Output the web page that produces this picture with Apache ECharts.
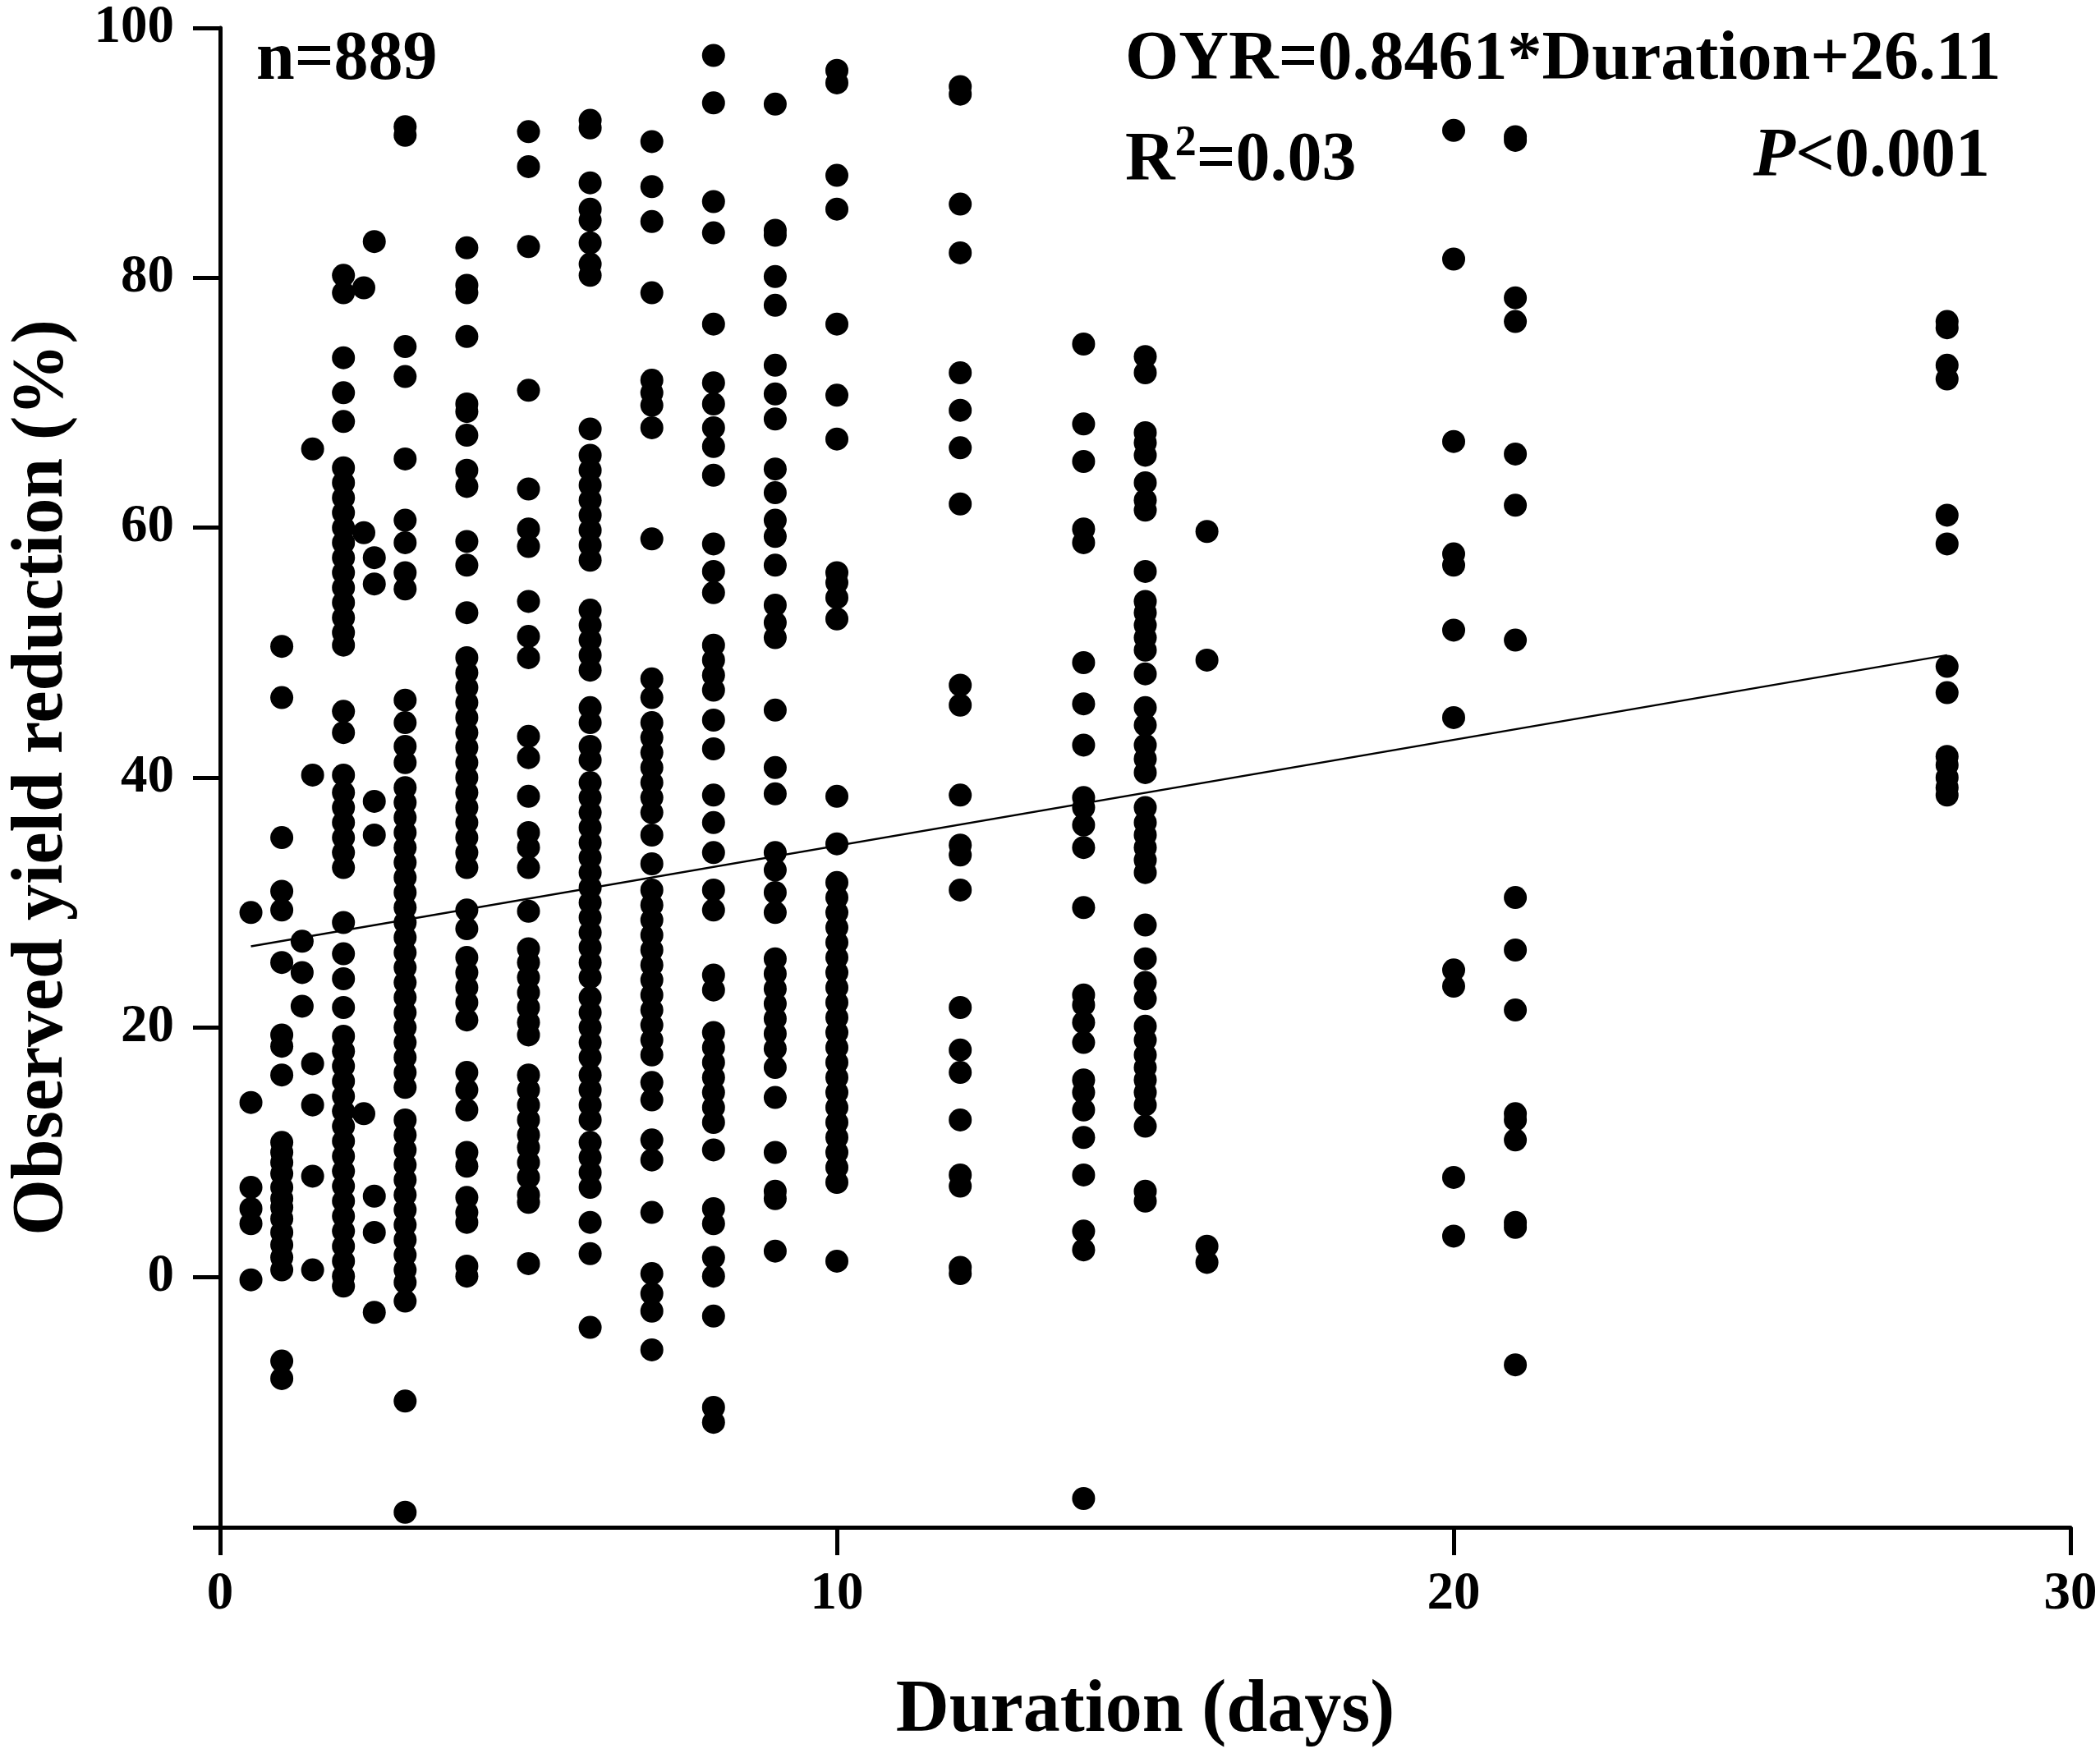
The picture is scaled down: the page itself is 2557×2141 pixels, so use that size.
<!DOCTYPE html>
<html>
<head>
<meta charset="utf-8">
<script src="https://cdn.jsdelivr.net/npm/echarts@6/dist/echarts.min.js"></script>
<style>
  html, body { margin: 0; padding: 0; background: #fff; }
  #chart { width: 2557px; height: 2141px; }
</style>
</head>
<body>
<div id="chart"></div>
<script>
// observed yield reduction (%) read per duration column (days)
let durations = [0.5, 1, 1.33, 1.5, 2, 2.33, 2.5, 3, 4, 5, 6, 7, 8, 9, 10, 12, 14, 15, 16, 20, 21, 28];
let oyr_d0_5 = [29.2, 14.0, 7.2, 5.5, 4.3, -0.2];
let oyr_d1 = [50.5, 46.4, 35.2, 30.9, 29.4, 25.2, 19.4, 18.5, 16.2, 10.8, 10.0, 9.2, 8.3, 7.2, 6.3, 5.6, 4.7, 3.6, 2.6, 1.6, 0.6, -6.7, -8.1];
let oyr_d1_33 = [26.9, 24.4, 21.7];
let oyr_d1_5 = [66.3, 40.2, 17.1, 13.8, 8.1, 0.6];
let oyr_d2 = [80.2, 78.8, 73.6, 70.8, 68.5, 64.8, 63.6, 62.4, 61.2, 60.0, 58.8, 57.6, 56.4, 55.2, 54.0, 52.8, 51.6, 50.6, 45.3, 43.6, 40.2, 38.8, 37.6, 36.4, 35.2, 34.0, 32.8, 28.4, 25.9, 23.9, 21.6, 19.3, 18.1, 16.9, 15.7, 14.5, 13.3, 12.1, 10.9, 9.7, 8.5, 7.3, 6.1, 4.9, 3.7, 2.5, 1.3, 0.1, -0.7];
let oyr_d2_33 = [79.2, 59.6, 13.1];
let oyr_d2_5 = [82.9, 57.6, 55.5, 38.1, 35.4, 6.5, 3.6, -2.8];
let oyr_d3 = [92.1, 91.4, 74.5, 72.1, 65.5, 60.6, 58.8, 56.4, 55.1, 46.2, 44.4, 42.5, 41.2, 39.2, 38.0, 36.8, 35.6, 34.4, 33.2, 32.0, 30.8, 29.6, 28.4, 27.2, 26.0, 24.8, 23.6, 22.4, 21.2, 20.0, 18.8, 17.6, 16.4, 15.2, 12.6, 11.4, 10.2, 9.0, 7.8, 6.6, 5.4, 4.2, 3.0, 1.8, 0.6, -0.4, -1.9, -9.9, -18.8];
let oyr_d4 = [82.4, 79.4, 78.8, 75.3, 69.9, 69.3, 67.4, 64.6, 63.3, 58.9, 57.0, 53.2, 49.6, 48.4, 47.2, 46.0, 44.8, 43.6, 42.4, 41.2, 40.0, 38.8, 37.6, 36.4, 35.2, 34.0, 32.8, 29.4, 27.9, 25.6, 24.4, 23.2, 22.0, 20.6, 16.4, 15.0, 13.4, 10.0, 8.9, 6.4, 5.2, 4.4, 0.9, 0.1];
let oyr_d5 = [91.7, 88.9, 82.5, 71.0, 63.1, 59.9, 58.5, 54.1, 51.3, 49.6, 43.3, 41.6, 38.5, 35.6, 34.4, 32.8, 29.3, 26.3, 25.2, 24.0, 22.8, 21.6, 20.4, 19.4, 16.2, 15.0, 13.8, 12.6, 11.4, 10.4, 9.2, 8.0, 6.6, 6.0, 1.1];
let oyr_d6 = [92.6, 92.0, 87.6, 85.5, 84.6, 82.8, 81.1, 80.2, 67.9, 65.8, 64.6, 63.4, 62.2, 61.0, 59.8, 58.6, 57.4, 53.4, 52.2, 51.0, 49.8, 48.6, 45.6, 44.4, 42.5, 41.4, 39.6, 38.4, 37.2, 36.0, 34.8, 33.6, 32.4, 31.2, 30.0, 28.8, 27.6, 26.4, 25.2, 24.0, 22.4, 21.2, 20.0, 18.8, 17.6, 16.2, 15.0, 13.8, 12.6, 10.8, 9.6, 8.4, 7.2, 4.4, 1.9, -4.0];
let oyr_d7 = [90.9, 87.3, 84.5, 78.8, 71.8, 70.8, 69.8, 68.0, 59.1, 47.9, 46.4, 44.4, 43.2, 42.0, 40.8, 39.6, 38.4, 37.2, 35.4, 33.1, 31.0, 29.8, 28.6, 27.4, 26.2, 25.0, 23.8, 22.6, 21.4, 20.2, 19.0, 17.8, 15.6, 14.2, 11.0, 9.4, 5.2, 0.3, -1.3, -2.7, -5.8];
let oyr_d8 = [97.8, 94.0, 86.1, 83.6, 76.3, 71.6, 69.9, 68.0, 66.5, 64.2, 58.7, 56.5, 54.8, 50.6, 49.4, 48.2, 47.0, 44.6, 42.3, 38.6, 36.4, 34.0, 31.0, 29.4, 24.2, 23.0, 19.6, 18.4, 17.2, 16.0, 14.8, 13.6, 12.4, 10.2, 5.5, 4.3, 1.6, 0.1, -3.1, -10.4, -11.6];
let oyr_d9 = [93.9, 83.8, 83.4, 80.1, 77.8, 73.0, 70.7, 68.7, 64.7, 62.8, 60.6, 59.3, 57.0, 53.8, 52.4, 51.2, 45.4, 40.8, 38.7, 34.0, 32.6, 30.8, 29.2, 25.5, 24.3, 23.1, 21.9, 20.7, 19.5, 18.3, 16.8, 14.4, 10.0, 6.9, 6.3, 2.1];
let oyr_d10 = [96.6, 95.6, 88.2, 85.5, 76.3, 70.6, 67.1, 56.4, 55.6, 54.4, 52.7, 38.5, 34.7, 31.6, 30.4, 29.2, 28.0, 26.8, 25.6, 24.4, 23.2, 22.0, 20.8, 19.6, 18.4, 17.2, 16.0, 14.8, 13.6, 12.4, 11.2, 10.0, 8.8, 7.6, 1.3];
let oyr_d12 = [95.3, 94.7, 85.9, 82.0, 72.4, 69.4, 66.4, 61.9, 47.4, 45.8, 38.6, 34.6, 33.8, 31.0, 21.6, 18.2, 16.4, 12.6, 8.2, 7.3, 0.8, 0.3];
let oyr_d14 = [74.7, 68.3, 65.3, 59.9, 58.8, 49.2, 45.9, 42.6, 38.4, 37.6, 36.2, 34.4, 29.6, 22.6, 21.8, 20.4, 18.8, 15.8, 14.8, 13.4, 11.2, 8.2, 3.7, 2.2, -17.7];
let oyr_d15 = [73.7, 72.4, 67.6, 66.8, 65.8, 63.6, 62.2, 61.4, 56.5, 54.1, 53.2, 52.2, 51.2, 50.2, 48.3, 45.6, 44.2, 42.6, 41.5, 40.4, 37.6, 36.4, 35.4, 34.4, 33.4, 32.4, 28.2, 25.5, 23.6, 22.3, 20.1, 19.0, 17.8, 16.8, 15.8, 14.8, 13.8, 12.1, 6.9, 6.1];
let oyr_d16 = [59.7, 49.4, 2.5, 1.2];
let oyr_d20 = [91.8, 81.5, 66.9, 57.9, 57.0, 51.8, 44.8, 24.6, 23.3, 8.0, 3.3];
let oyr_d21 = [91.3, 91.0, 78.4, 76.5, 65.9, 61.8, 51.0, 30.4, 26.2, 21.4, 13.1, 12.6, 11.0, 4.4, 4.0, -7.0];
let oyr_d28 = [76.5, 76.0, 73.0, 71.9, 61.0, 58.7, 48.9, 46.8, 41.7, 41.0, 40.0, 39.2, 38.6];

// fitted line end points (duration, OYR)
let fitLine = [[0.5, 26.5], [28, 49.8]];
let xTicks = [0, 10, 20, 30];
let yTicks = [-20, 0, 20, 40, 60, 80, 100];

let columns = [oyr_d0_5, oyr_d1, oyr_d1_33, oyr_d1_5, oyr_d2, oyr_d2_33, oyr_d2_5, oyr_d3, oyr_d4, oyr_d5,
    oyr_d6, oyr_d7, oyr_d8, oyr_d9, oyr_d10, oyr_d12, oyr_d14, oyr_d15, oyr_d16, oyr_d20, oyr_d21, oyr_d28];

let points = [];
for (let i = 0; i < durations.length; i++) {
    for (let v of columns[i]) {
        points.push([durations[i], v]);
    }
}

let fontFamily = '"Liberation Serif", "Times New Roman", serif';
let chart = echarts.init(document.getElementById('chart'), null, {renderer: 'canvas'});

let option = {
    animation: false,
    backgroundColor: '#fff',
    grid: {
        left: 268,
        right: 36,
        top: 34,
        bottom: 281,
        containLabel: false
    },
    xAxis: {
        type: 'value',
        min: xTicks[0],
        max: xTicks[xTicks.length - 1],
        interval: 10,
        name: 'Duration (days)',
        nameLocation: 'middle',
        nameGap: 180,
        nameTextStyle: {
            fontFamily: fontFamily,
            fontWeight: 'bold',
            fontSize: 90,
            color: '#000'
        },
        axisLine: {onZero: false, lineStyle: {color: '#000', width: 5}},
        axisTick: {length: 34, lineStyle: {color: '#000', width: 5}},
        axisLabel: {
            margin: 50,
            fontFamily: fontFamily,
            fontWeight: 'bold',
            fontSize: 65,
            color: '#000'
        },
        splitLine: {show: false}
    },
    yAxis: {
        type: 'value',
        min: yTicks[0],
        max: yTicks[yTicks.length - 1],
        interval: 20,
        name: 'Observed yield reduction (%)',
        nameLocation: 'middle',
        nameGap: 172,
        nameTextStyle: {
            fontFamily: fontFamily,
            fontWeight: 'bold',
            fontSize: 88,
            color: '#000'
        },
        axisLine: {onZero: false, lineStyle: {color: '#000', width: 5}},
        axisTick: {length: 33, lineStyle: {color: '#000', width: 5}},
        axisLabel: {
            margin: 56,
            fontFamily: fontFamily,
            fontWeight: 'bold',
            fontSize: 65,
            color: '#000',
            formatter: function (value) {
                return value === -20 ? '' : String(value);
            }
        },
        splitLine: {show: false}
    },
    graphic: [
        {
            type: 'text', left: 312, top: 32,
            style: {text: 'n=889', font: 'bold 84px ' + fontFamily, fill: '#000'}
        },
        {
            type: 'text', left: 1370, top: 32,
            style: {text: 'OYR=0.8461*Duration+26.11', font: 'bold 84px ' + fontFamily, fill: '#000'}
        },
        {
            type: 'text', left: 1370, top: 150,
            style: {
                text: '{b|R}{s|2}{b|=0.03}',
                fill: '#000',
                rich: {
                    b: {fontFamily: fontFamily, fontWeight: 'bold', fontSize: 84, lineHeight: 94},
                    s: {fontFamily: fontFamily, fontWeight: 'bold', fontSize: 52, verticalAlign: 'top', lineHeight: 58}
                }
            }
        },
        {
            type: 'text', right: 134, top: 150,
            style: {
                text: '{i|P}{b|<0.001}',
                fill: '#000',
                rich: {
                    i: {fontFamily: fontFamily, fontWeight: 'bold', fontStyle: 'italic', fontSize: 84, lineHeight: 94},
                    b: {fontFamily: fontFamily, fontWeight: 'bold', fontSize: 84, lineHeight: 94}
                }
            }
        }
    ],
    series: [
        {
            type: 'scatter',
            data: points,
            symbol: 'circle',
            symbolSize: 28,
            itemStyle: {color: '#000', opacity: 1},
            silent: true
        },
        {
            type: 'line',
            data: fitLine,
            symbol: 'none',
            lineStyle: {color: '#000', width: 2.5},
            silent: true,
            z: 3
        }
    ]
};
chart.setOption(option);
</script>
</body>
</html>
